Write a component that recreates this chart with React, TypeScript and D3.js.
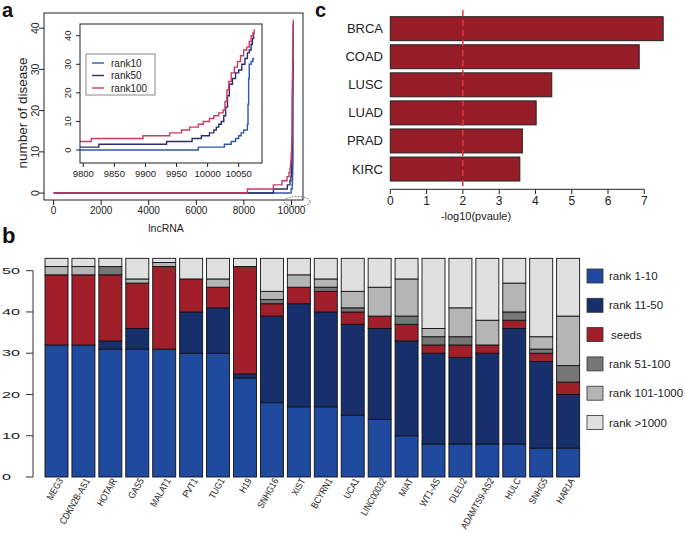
import React from 'react';
import * as d3 from 'd3';

const FONT = "'Liberation Sans', Arial, Helvetica, sans-serif";

// ---------- panel a data ----------
const mainXTicks = [0, 2000, 4000, 6000, 8000, 10000];
const mainYTicks = [0, 10, 20, 30, 40];
const insetXTicks = [9800, 9850, 9900, 9950, 10000, 10050];
const insetYTicks = [0, 10, 20, 30, 40];
const seriesNames = ['rank10', 'rank50', 'rank100'];
const seriesColors = ['#2f57a8', '#2b2e6b', '#c93c62'];

// step breakpoints [lncRNA index, number of disease] before the zoomed region
const rank10Head: [number, number][] = [[0, 0]];
const rank50Head: [number, number][] = [[0, 0], [9240, 1]];
const rank100Head: [number, number][] = [[0, 0], [8146, 1], [9240, 2], [9600, 3]];

// step breakpoints in the zoomed region
const rank10Tail: [number, number][] = [
  [9795, 0], [9985, 1], [10027, 2], [10038, 3], [10045, 4], [10050, 5], [10054, 6],
  [10058, 7], [10064, 9], [10065, 16], [10066, 25], [10067, 30], [10070, 31], [10073, 32], [10075, 32],
];
const rank50Tail: [number, number][] = [
  [9795, 1], [9825, 2], [9934, 3], [9975, 4], [9990, 5], [10003, 6], [10010, 7], [10014, 8],
  [10018, 9], [10022, 10], [10026, 12], [10029, 15], [10032, 19], [10035, 23], [10040, 25],
  [10045, 27], [10050, 28], [10055, 30], [10060, 32], [10064, 34], [10067, 35], [10070, 37],
  [10072, 39], [10074, 41], [10076, 41],
];
const rank100Tail: [number, number][] = [
  [9795, 3], [9813, 4], [9896, 5], [9939, 6], [9958, 7], [9971, 8], [9985, 9], [9993, 10],
  [10003, 11], [10010, 12], [10018, 13], [10025, 14], [10028, 17], [10031, 21], [10034, 24],
  [10038, 27], [10043, 29], [10048, 31], [10053, 33], [10058, 35], [10063, 36], [10067, 38],
  [10070, 40], [10073, 41], [10075, 42], [10076, 42],
];

// ---------- panel b data ----------
const lncNames = ['MEG3', 'CDKN2B-AS1', 'HOTAIR', 'GAS5', 'MALAT1', 'PVT1', 'TUG1', 'H19', 'SNHG16', 'XIST',
  'BCYRN1', 'UCA1', 'LINC00032', 'MIAT', 'WT1-AS', 'DLEU2', 'ADAMTS9-AS2', 'HULC', 'SNHG5', 'HAR1A'];
const rank1to10 = [32, 32, 31, 31, 31, 30, 30, 24, 18, 17, 17, 15, 14, 10, 8, 8, 8, 8, 7, 7];
const rank11to50 = [0, 0, 2, 5, 0, 10, 11, 1, 21, 25, 23, 22, 22, 23, 22, 21, 22, 28, 21, 13];
const seeds = [17, 17, 16, 11, 20, 8, 5, 26, 3, 4, 5, 3, 3, 4, 2, 3, 2, 2, 2, 3];
const rank51to100 = [0, 0, 2, 0, 0, 0, 0, 0, 1, 0, 1, 1, 0, 2, 2, 2, 0, 2, 1, 4];
const rank101to1000 = [2, 2, 0, 1, 1, 0, 2, 0, 2, 3, 2, 4, 7, 9, 2, 7, 6, 7, 3, 12];
const rankOver1000 = [2, 2, 2, 5, 1, 5, 5, 2, 8, 4, 5, 8, 7, 5, 17, 12, 15, 6, 19, 14];
const stackKeys = ['rank 1-10', 'rank 11-50', 'seeds', 'rank 51-100', 'rank 101-1000', 'rank >1000'];
const stackColors = ['#1f4a9e', '#17306b', '#a01f2a', '#777777', '#b5b5b5', '#e0e0e0'];
const barYTicks = [0, 10, 20, 30, 40, 50];

// ---------- panel c data ----------
const cancers = ['BRCA', 'COAD', 'LUSC', 'LUAD', 'PRAD', 'KIRC'];
const negLogP = [7.52, 6.86, 4.45, 4.02, 3.64, 3.57];
const cXTicks = [0, 1, 2, 3, 4, 5, 6, 7];
const threshold = 2;

function PanelA() {
  const x = d3.scaleLinear().domain([-403, 10484]).range([44, 303]);
  const y = d3.scaleLinear().domain([-1.68, 43.68]).range([200, 13]);
  const ix = d3.scaleLinear().domain([9794.7, 10087.5]).range([80, 262]);
  const iy = d3.scaleLinear().domain([-4.55, 44.1]).range([163, 24]);
  const heads = [rank10Head, rank50Head, rank100Head];
  const tails = [rank10Tail, rank50Tail, rank100Tail];
  const mainLine = d3.line<[number, number]>().x(d => x(d[0])).y(d => y(d[1])).curve(d3.curveStepAfter);
  const insetLine = d3.line<[number, number]>().x(d => ix(d[0])).y(d => iy(d[1])).curve(d3.curveStepAfter);
  return (
    <g fontFamily={FONT} fill="#222">
      <text x={2} y={17} fontSize={20} fontWeight="bold" fill="#111">a</text>
      {heads.map((h, i) => (
        <path key={i} d={mainLine([...h, ...tails[i]]) || ''} fill="none" stroke={seriesColors[i]} strokeWidth={1.4} />
      ))}
      <rect x={44} y={13} width={259} height={187} fill="none" stroke="#222" strokeWidth={1} />
      {mainXTicks.map(t => (
        <g key={t}>
          <line x1={x(t)} x2={x(t)} y1={200} y2={205} stroke="#222" />
          <text x={x(t)} y={214} fontSize={10} textAnchor="middle">{t}</text>
        </g>
      ))}
      {mainYTicks.map(t => (
        <g key={t}>
          <line x1={39} x2={44} y1={y(t)} y2={y(t)} stroke="#222" />
          <text transform={`translate(35,${y(t)}) rotate(-90)`} fontSize={10.5} textAnchor="middle" dominantBaseline="central">{t}</text>
        </g>
      ))}
      <text transform="translate(22,113) rotate(-90)" fontSize={13.5} textAnchor="middle" dominantBaseline="central">number of disease</text>
      <text x={166} y={232} fontSize={10.5} textAnchor="middle">lncRNA</text>
      <ellipse cx={297} cy={201.5} rx={13} ry={5} fill="none" stroke="#555" strokeDasharray="1.5,1.5" />
      <rect x={80} y={24} width={182} height={139} fill="#fff" />
      <clipPath id="insetClip"><rect x={80} y={24} width={182} height={139} /></clipPath>
      <g clipPath="url(#insetClip)">
        {tails.map((t, i) => (
          <path key={i} d={insetLine(t) || ''} fill="none" stroke={seriesColors[i]} strokeWidth={1.4} />
        ))}
      </g>
      <rect x={80} y={24} width={182} height={139} fill="none" stroke="#222" strokeWidth={1} />
      {insetXTicks.map(t => (
        <g key={t}>
          <line x1={ix(t)} x2={ix(t)} y1={163} y2={167} stroke="#222" />
          <text x={ix(t)} y={177} fontSize={9.5} textAnchor="middle">{t}</text>
        </g>
      ))}
      {insetYTicks.map(t => (
        <g key={t}>
          <line x1={76} x2={80} y1={iy(t)} y2={iy(t)} stroke="#222" />
          <text transform={`translate(67,${iy(t)}) rotate(-90)`} fontSize={9.5} textAnchor="middle" dominantBaseline="central">{t}</text>
        </g>
      ))}
      <rect x={86} y={54} width={69} height={41} fill="#fff" stroke="#888" strokeWidth={1} />
      {seriesNames.map((n, i) => (
        <g key={n}>
          <line x1={92} x2={104} y1={63 + i * 12.5} y2={63 + i * 12.5} stroke={seriesColors[i]} strokeWidth={1.4} />
          <text x={111} y={63 + i * 12.5} fontSize={10} dominantBaseline="central">{n}</text>
        </g>
      ))}
    </g>
  );
}

function PanelB() {
  const x = d3.scaleBand<string>().domain(lncNames).range([43.04, 581.6]).paddingInner(0.146).paddingOuter(0.073);
  const y = d3.scaleLinear().domain([0, 50]).range([477, 270.7]);
  const rows = lncNames.map((n, i) => ({
    name: n,
    'rank 1-10': rank1to10[i],
    'rank 11-50': rank11to50[i],
    seeds: seeds[i],
    'rank 51-100': rank51to100[i],
    'rank 101-1000': rank101to1000[i],
    'rank >1000': rankOver1000[i],
  }));
  const stacked = d3.stack<any>().keys(stackKeys)(rows);
  return (
    <g fontFamily={FONT} fill="#222">
      <text x={2} y={243} fontSize={22} fontWeight="bold" fill="#111">b</text>
      {stacked.map((layer, k) => (
        <g key={layer.key}>
          {layer.map((d, i) => (
            d[1] - d[0] > 0 ? (
              <rect key={i} x={x(lncNames[i])} width={x.bandwidth()} y={y(d[1])} height={y(d[0]) - y(d[1])}
                fill={stackColors[k]} stroke="#111" strokeWidth={0.9} />
            ) : null
          ))}
        </g>
      ))}
      <line x1={33} x2={33} y1={y(0)} y2={y(50)} stroke="#333" strokeWidth={1} />
      {barYTicks.map(t => (
        <g key={t}>
          <line x1={26} x2={33} y1={y(t)} y2={y(t)} stroke="#333" />
          <text transform={`translate(2,${y(t)}) scale(1.8,1)`} fontSize={9} dominantBaseline="central">{t}</text>
        </g>
      ))}
      {lncNames.map(n => (
        <text key={n} transform={`translate(${(x(n) as number) + x.bandwidth() / 2 + 4},479) rotate(-60) scale(0.85,1)`}
          fontSize={9.6} textAnchor="end" dy="0.35em">{n}</text>
      ))}
      {stackKeys.map((k, i) => (
        <g key={k}>
          <rect x={587} y={269 + i * 29.3} width={16} height={14} fill={stackColors[i]} stroke="#333" strokeWidth={0.8} />
          <text x={k === 'seeds' ? 611 : 609} y={276 + i * 29.3} fontSize={11.5} dominantBaseline="central">{k}</text>
        </g>
      ))}
    </g>
  );
}

function PanelC() {
  const x = d3.scaleLinear().domain([0, 7]).range([390.3, 644.3]);
  const y = d3.scaleBand<string>().domain(cancers).range([14.65, 183.05]).paddingInner(0.146).paddingOuter(0.073);
  return (
    <g fontFamily={FONT} fill="#222">
      <text x={315} y={17} fontSize={20} fontWeight="bold" fill="#111">c</text>
      {cancers.map((c, i) => (
        <g key={c}>
          <rect x={x(0)} y={y(c)} width={x(negLogP[i]) - x(0)} height={y.bandwidth()} fill="#971d28" stroke="#222" strokeWidth={1} />
          <text x={383} y={(y(c) as number) + y.bandwidth() / 2} fontSize={13} textAnchor="end" dominantBaseline="central">{c}</text>
        </g>
      ))}
      <line x1={x(threshold)} x2={x(threshold)} y1={10} y2={189} stroke="#e5393f" strokeWidth={1.5} strokeDasharray="6,4" />
      <line x1={x(0)} x2={x(7)} y1={189.3} y2={189.3} stroke="#222" />
      {cXTicks.map(t => (
        <g key={t}>
          <line x1={x(t)} x2={x(t)} y1={189.3} y2={194} stroke="#222" />
          <text x={x(t)} y={205} fontSize={12} textAnchor="middle">{t}</text>
        </g>
      ))}
      <text x={476} y={220} fontSize={11} textAnchor="middle">-log10(pvaule)</text>
    </g>
  );
}

export default function App() {
  return (
    <svg width={685} height={534} viewBox="0 0 685 534" style={{ position: 'absolute', left: 0, top: 0, background: '#fff' }}>
      <rect width={685} height={534} fill="#fff" />
      <PanelA />
      <PanelC />
      <PanelB />
    </svg>
  );
}
